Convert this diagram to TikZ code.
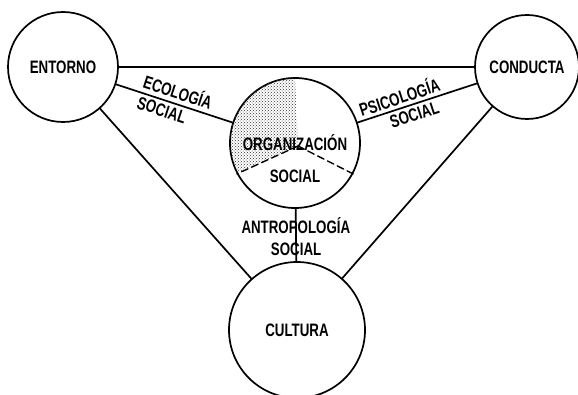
\documentclass[tikz,border=0pt]{standalone}
\usepackage{fontspec}
\setmainfont[FakeStretch=0.74]{Liberation Sans}
\usetikzlibrary{patterns}
\begin{document}
\begin{tikzpicture}[x=1pt,y=1pt,line
				join=round,line
				cap=round,line width=1.7pt,
				font=\fontsize{18}{20}\selectfont\bfseries,
				circ/.style={draw,circle,inner sep=0pt,minimum size=#1}]
				\def\ro{65}
				\useasboundingbox (0,0) rectangle (578,394);
				\node[circ=110] (ent) at (63,327) {ENTORNO};
				\node[circ=104] (con) at (527,327) {CONDUCTA};
				\node[circ=136] (cul) at (297,64) {CULTURA};
				\node[circ=2*\ro] (org) at (295,251) {};
				\path (298,248) coordinate (S);
				\fill[pattern=crosshatch dots,pattern color=black!80]
				(S)--(org.90) arc
				(90:208:\ro)--cycle;
				\draw[dash pattern=on 7pt off 4pt,line width=1.4pt] (S)--(org.208)
				(S)--(org.-28);
				\node (orga) at (org) {ORGANIZACIÓN};
				\node (orgb) at ([yshift=-33]org.center) {SOCIAL};
				\draw (ent)--(con)
				(ent)--(org)--(con)
				(org)--(cul)
				(ent)--(cul)--(con);
				\path (ent)--(org)node[pos=0.5,sloped,above,inner sep=1pt,yshift=3] (ecoa) {ECOLOGÍA}
				node[pos=0.42,sloped,below,inner sep=1pt,yshift=-2] (ecob) {SOCIAL};
				\path (org)--(con)node[pos=0.38,sloped,above,inner sep=1pt,yshift=2] (psia) {PSICOLOGÍA}
				node[pos=0.45,sloped,below,inner sep=1pt,yshift=-2] (psib) {SOCIAL};
				\path (org)--(cul)node[pos=0.33,inner sep=1pt] (antra) {ANTROPOLOGÍA}
				node[pos=0.78,inner sep=1pt] (antrb) {SOCIAL};
			\end{tikzpicture}
\end{document}
